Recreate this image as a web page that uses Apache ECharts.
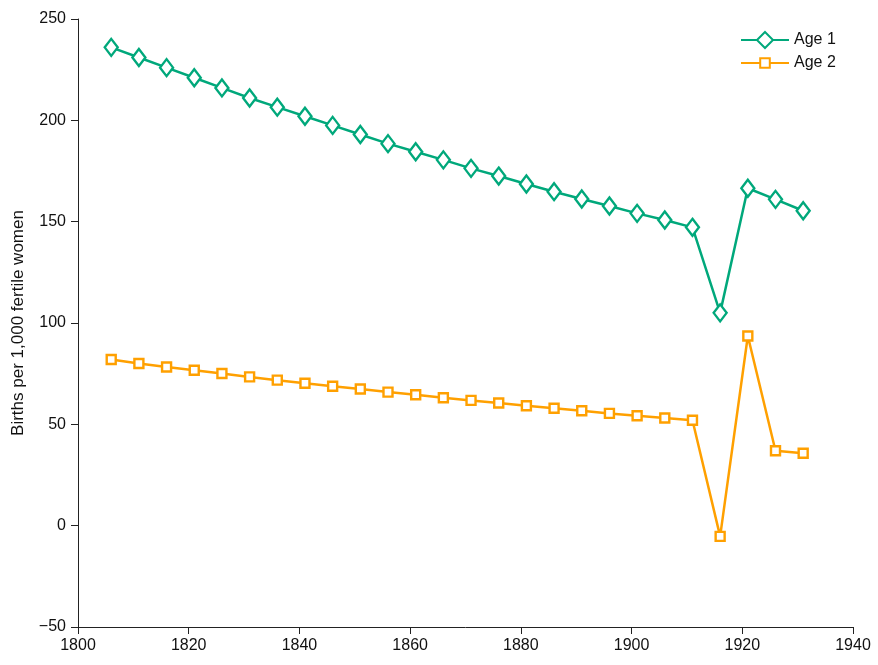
<!DOCTYPE html>
<html><head><meta charset="utf-8">
<script src="https://cdn.jsdelivr.net/npm/echarts@6/dist/echarts.min.js"></script>
<style>html,body{margin:0;padding:0;background:#fff}#c{width:878px;height:665px}</style>
</head><body><div id="c"></div>
<script>
const years = [1806,1811,1816,1821,1826,1831,1836,1841,1846,1851,1856,1861,1866,1871,1876,1881,1886,1891,1896,1901,1906,1911,1916,1921,1926,1931];
const age1 = [236,231,226,221,216,211,206.5,202,197.5,193,188.5,184.5,180.5,176.3,172.5,168.6,164.8,161.2,157.7,154.1,150.8,147.2,105,166.5,161,155.4];
const age2 = [82,80,78.3,76.7,75.1,73.4,71.8,70.3,68.8,67.4,65.9,64.6,63.1,61.8,60.5,59.2,57.9,56.7,55.4,54.2,53.1,52,-5.3,93.6,37,35.7];
const xTicks = [1800,1820,1840,1860,1880,1900,1920,1940];
const yTicks = [-50,0,50,100,150,200,250];

const font = 'Liberation Sans, Arial, sans-serif';
const green = '#00A87B';
const orange = '#FFA000';
const chart = echarts.init(document.getElementById('c'), null, {renderer:'canvas'});
const legendText = {fontFamily:font,fontSize:16,color:'#111'};
chart.setOption({
  animation:false,
  backgroundColor:'#fff',
  grid:{left:78,right:25,top:19,bottom:38,containLabel:false},
  legend:[
    {orient:'vertical', left:735, top:26, itemWidth:48, itemHeight:20, itemGap:0,
     textStyle:legendText, data:['Age 1']},
    {orient:'vertical', left:735, top:50, itemWidth:48, itemHeight:12, itemGap:0,
     textStyle:legendText, data:['Age 2']}
  ],
  xAxis:{
    type:'value', min:xTicks[0], max:xTicks[xTicks.length-1], interval:20,
    axisLine:{show:true,onZero:false,lineStyle:{color:'#222',width:1}},
    axisTick:{show:true,length:7,lineStyle:{color:'#222'}},
    axisLabel:{fontFamily:font,fontSize:16,color:'#111',margin:11,formatter:v=>String(v)},
    splitLine:{show:false}
  },
  yAxis:{
    type:'value', min:yTicks[0], max:yTicks[yTicks.length-1], interval:50,
    name:'Births per 1,000 fertile women', nameLocation:'middle', nameGap:51, nameRotate:90,
    nameTextStyle:{fontFamily:font,fontSize:17,color:'#111'},
    axisLine:{show:true,lineStyle:{color:'#222',width:1}},
    axisTick:{show:true,length:7,lineStyle:{color:'#222'}},
    axisLabel:{fontFamily:font,fontSize:16,color:'#111',margin:12,
      formatter:v=> v<0 ? '\u2212'+Math.abs(v) : String(v)},
    splitLine:{show:false}
  },
  series:[
    {name:'Age 1',type:'line',data:years.map((y,i)=>[y,age1[i]]),
     symbol:'diamond',symbolSize:[13,17],showAllSymbol:true,
     lineStyle:{color:green,width:2.5},
     itemStyle:{color:'#fff',borderColor:green,borderWidth:2.4}},
    {name:'Age 2',type:'line',data:years.map((y,i)=>[y,age2[i]]),
     symbol:'rect',symbolSize:9,showAllSymbol:true,
     lineStyle:{color:orange,width:2.5},
     itemStyle:{color:'#fff',borderColor:orange,borderWidth:2.4}}
  ]
});
</script></body></html>
